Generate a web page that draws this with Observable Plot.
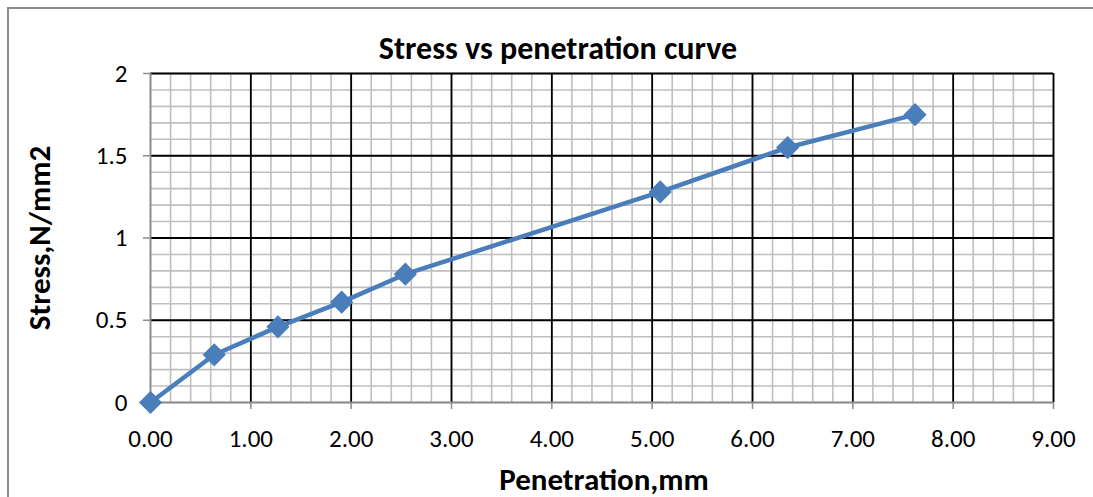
<!DOCTYPE html>
<html>
<head>
<meta charset="utf-8">
<script src="https://cdn.jsdelivr.net/npm/d3@7"></script>
<script src="https://cdn.jsdelivr.net/npm/@observablehq/plot@0.6"></script>
<style>
  html, body { margin: 0; padding: 0; background: #fff; }
  #wrap { position: relative; width: 1093px; height: 497px; overflow: hidden; }
  #border { position: absolute; left: 7px; top: 7px; width: 1200px; height: 600px;
            border-left: 2px solid #8c8c8c; border-top: 2px solid #8c8c8c; box-sizing: border-box; }
  #chart { position: absolute; left: 0; top: 0; }
</style>
</head>
<body>
<div id="wrap"><div id="border"></div><div id="chart"></div></div>
<script>
const penetration = [0, 0.635, 1.27, 1.905, 2.54, 5.08, 6.35, 7.62];
const stress = [0, 0.29, 0.46, 0.61, 0.78, 1.28, 1.55, 1.75];
const xTicks = [0, 1, 2, 3, 4, 5, 6, 7, 8, 9];
const yTicks = [0, 0.5, 1, 1.5, 2];
const xMinor = d3.range(0, 46).map(i => i * 0.2);
const yMinor = d3.range(0, 21).map(i => i / 10);
const title = "Stress vs penetration curve";
const xLabel = "Penetration,mm";
const yLabel = "Stress,N/mm2";

const data = penetration.map((p, i) => ({x: p, y: stress[i]}));
const font = "Carlito, Calibri, 'Open Sans', sans-serif";

const chart = Plot.plot({
  width: 1093,
  height: 497,
  marginLeft: 150,
  marginRight: 40,
  marginTop: 73,
  marginBottom: 95,
  style: {fontFamily: font, background: "transparent", color: "#000"},
  x: {domain: [0, 9]},
  y: {domain: [0, 2]},
  marks: [
    Plot.ruleX(xMinor, {stroke: "#bfbfbf", strokeWidth: 1.6}),
    Plot.ruleY(yMinor, {stroke: "#bfbfbf", strokeWidth: 1.6}),
    Plot.ruleX(xTicks.slice(1), {stroke: "#000", strokeWidth: 1.8}),
    Plot.ruleY(yTicks.slice(1), {stroke: "#000", strokeWidth: 1.8}),
    Plot.ruleX([0], {stroke: "#8c8c8c", strokeWidth: 1.8}),
    Plot.ruleY([0], {stroke: "#8c8c8c", strokeWidth: 1.8}),
    Plot.axisX({ticks: xTicks, tickFormat: d3.format(".2f"), tickSize: 7, tickPadding: 20,
      stroke: "#8c8c8c", strokeWidth: 1.5, fontSize: 25, fill: "#000", label: null}),
    Plot.axisY({ticks: yTicks, tickFormat: d => String(d), tickSize: 7, tickPadding: 16,
      stroke: "#8c8c8c", strokeWidth: 1.5, fontSize: 25, fill: "#000", label: null}),
    Plot.line(data, {x: "x", y: "y", stroke: "#4a7ebb", strokeWidth: 4.5}),
    Plot.dot(data, {x: "x", y: "y", symbol: "diamond2", r: 9.5, fill: "#4a7ebb", stroke: "#4a7ebb"}),
    Plot.text([title], {frameAnchor: "top", textAnchor: "middle", lineAnchor: "middle", dx: -44, dy: -25,
      fontSize: 32, fontWeight: "bold", fill: "#000"}),
    Plot.text([xLabel], {frameAnchor: "bottom", textAnchor: "middle", lineAnchor: "middle", dx: 2, dy: 78,
      fontSize: 31, fontWeight: "bold", fill: "#000"}),
    Plot.text([yLabel], {frameAnchor: "left", textAnchor: "middle", lineAnchor: "middle", rotate: -90, dx: -110, dy: 0,
      fontSize: 31, fontWeight: "bold", fill: "#000"})
  ]
});
document.getElementById("chart").appendChild(chart);
</script>
</body>
</html>
